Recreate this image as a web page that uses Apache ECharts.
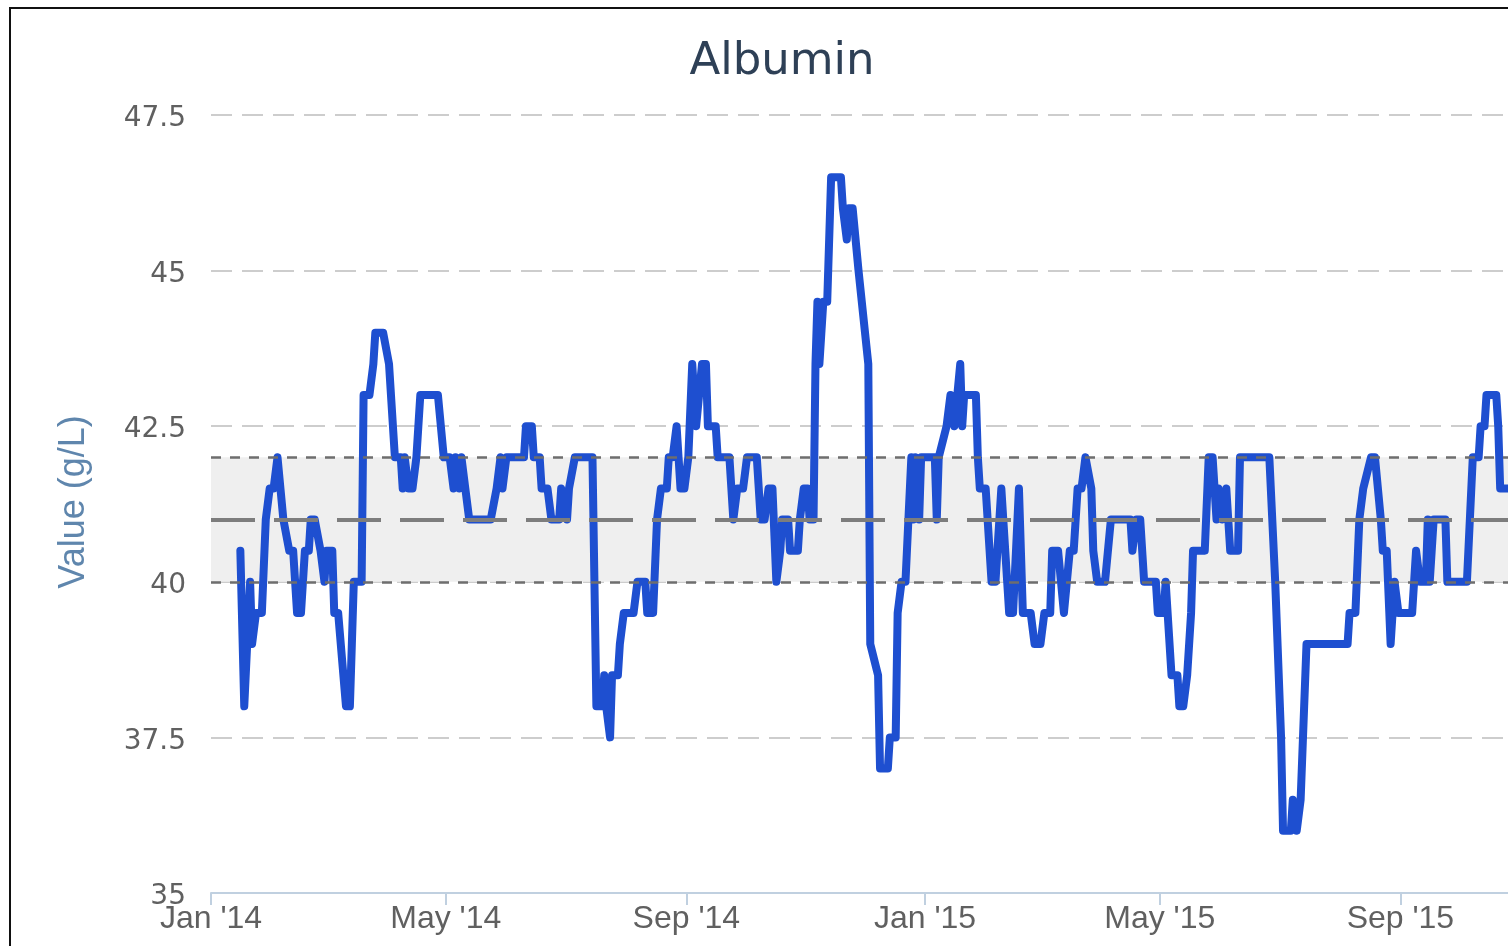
<!DOCTYPE html>
<html>
<head>
<meta charset="utf-8">
<title>Albumin</title>
<script src="https://cdn.jsdelivr.net/npm/echarts@6.0.0/dist/echarts.min.js"></script>
<style>
    html, body { margin: 0; padding: 0; background: #fff; }
    #chart { width: 1508px; height: 946px; }
</style>
</head>
<body>
<div id="chart"></div>
<script>
// reading dates, as days after 1 Jan 2014
const days = [
    15, 17, 18, 20, 21, 23, 26, 28, 30, 32, 34, 35, 37, 40, 42, 44, 46, 48, 50, 51,
    53, 56, 58, 59, 62, 63, 65, 69, 71, 72, 73, 77, 78, 81, 83, 84, 88, 91, 92, 94,
    97, 98, 99, 101, 103, 105, 106, 107, 116, 119, 122, 124, 125, 127, 128, 130, 132, 143, 146, 148,
    149, 151, 160, 161, 164, 165, 168, 169, 172, 174, 178, 179, 182, 183, 186, 195, 197, 200, 201, 202,
    204, 205, 208, 209, 211, 216, 218, 222, 223, 226, 228, 230, 233, 234, 236, 238, 240, 242, 244, 246,
    248, 251, 253, 254, 258, 259, 265, 267, 269, 272, 274, 279, 281, 283, 285, 287, 289, 291, 292, 295,
    296, 300, 301, 303, 305, 306, 308, 309, 310, 311, 313, 315, 317, 322, 323, 325, 326, 328, 331, 336,
    337, 341, 342, 346, 347, 350, 351, 353, 355, 358, 359, 360, 362, 363, 370, 371, 372, 376, 378, 380,
    383, 384, 385, 391, 392, 393, 396, 399, 401, 404, 408, 410, 413, 415, 419, 421, 424, 426, 429, 430,
    433, 436, 439, 441, 443, 445, 447, 448, 450, 451, 453, 457, 460, 470, 471, 473, 475, 477, 483, 484,
    487, 488, 489, 491, 494, 495, 497, 499, 501, 502, 508, 510, 512, 514, 515, 517, 519, 521, 525, 526,
    541, 544, 547, 548, 552, 553, 555, 557, 558, 560, 581, 582, 585, 587, 589, 593, 595, 598, 599, 601,
    603, 605, 607, 614, 616, 617, 618, 621, 622, 623, 625, 631, 632, 642, 645, 648, 649, 651, 652, 657,
    658, 659, 665
];

// albumin values (g/L)
const albumin = [
    40.5, 38, 38, 40, 39, 39.5, 39.5, 41, 41.5, 41.5, 42, 42, 41, 40.5, 40.5, 39.5, 39.5, 40.5, 40.5, 41,
    41, 40.5, 40, 40.5, 40.5, 39.5, 39.5, 38, 38, 39, 40, 40, 43, 43, 43.5, 44, 44, 43.5, 43.5, 42,
    42, 41.5, 42, 41.5, 41.5, 42, 42, 43, 43, 42, 42, 41.5, 42, 41.5, 42, 41.5, 41, 41, 41.5, 42,
    41.5, 42, 42, 42.5, 42.5, 42, 42, 41.5, 41.5, 41, 41, 41.5, 41, 41.5, 42, 42, 38, 38, 38.5, 38,
    37.5, 38.5, 38.5, 39, 39.5, 39.5, 40, 40, 39.5, 39.5, 41, 41.5, 41.5, 42, 42, 42.5, 41.5, 41.5, 42, 43.5,
    42.5, 43.5, 43.5, 42.5, 42.5, 42, 42, 41, 41.5, 41.5, 42, 42, 41, 41, 41.5, 41.5, 40, 40.5, 41, 41,
    40.5, 40.5, 41, 41.5, 41.5, 41, 41, 43.5, 44.5, 43.5, 44.5, 44.5, 46.5, 46.5, 46, 45.5, 46, 46, 45, 43.5,
    39, 38.5, 37, 37, 37.5, 37.5, 39.5, 40, 40, 42, 41, 42, 41, 42, 42, 41, 42, 42.5, 43, 42.5,
    43.5, 42.5, 43, 43, 42, 41.5, 41.5, 40, 40, 41.5, 39.5, 39.5, 41.5, 39.5, 39.5, 39, 39, 39.5, 39.5, 40.5,
    40.5, 39.5, 40.5, 40.5, 41.5, 41.5, 42, 42, 41.5, 40.5, 40, 40, 41, 41, 40.5, 41, 41, 40, 40, 39.5,
    39.5, 40, 40, 38.5, 38.5, 38, 38, 38.5, 39.5, 40.5, 40.5, 42, 42, 41, 41.5, 41, 41.5, 40.5, 40.5, 42,
    42, 40, 37.5, 36, 36, 36.5, 36, 36.5, 36.5, 39, 39, 39.5, 39.5, 41, 41.5, 42, 42, 41, 40.5, 40.5,
    39, 40, 39.5, 39.5, 40.5, 40.5, 40, 40, 41, 40, 41, 41, 40, 40, 42, 42, 42.5, 42.5, 43, 43,
    42.5, 41.5, 41.5
];

// x axis ticks (year, month) and their labels
const tickMonths = [[2014, 0], [2014, 4], [2014, 8], [2015, 0], [2015, 4], [2015, 8]];
const tickLabels = ["Jan '14", "May '14", "Sep '14", "Jan '15", "May '15", "Sep '15"];

// reference range and target line
const refLow = 40;
const refHigh = 42;
const refMid = 41;

// days after 1 Jan 2014 for each tick month
const start = Date.UTC(2014, 0, 1);
const tickDays = tickMonths.map(([y, m]) => Math.round((Date.UTC(y, m, 1) - start) / 864e5));
const lineData = days.map((d, i) => [d, albumin[i]]);

const chart = echarts.init(document.getElementById('chart'));

chart.setOption({
    animation: false,
    backgroundColor: '#fff',
    grid: { left: 211, right: 0, top: 115, bottom: 946 - 893 },
    graphic: [
        {
            // frame round the chart
            type: 'rect',
            shape: { x: 10, y: 8, width: 3000, height: 3000 },
            style: { fill: 'none', stroke: '#111', lineWidth: 2 },
            z: 10
        },
        {
            type: 'text',
            x: 782,
            y: 62,
            style: {
                text: 'Albumin',
                font: '45px "DejaVu Sans"',
                fill: '#2e4056',
                textAlign: 'center',
                textVerticalAlign: 'middle'
            }
        },
        {
            type: 'text',
            x: 74,
            y: 502,
            rotation: Math.PI / 2,
            style: {
                text: 'Value (g/L)',
                font: '36px "Liberation Sans"',
                fill: '#5f86ad',
                textAlign: 'center',
                textVerticalAlign: 'middle'
            }
        }
    ],
    xAxis: {
        type: 'value',
        min: 0,
        max: 663,
        axisLine: { lineStyle: { color: '#c0d0e0', width: 2 } },
        axisTick: {
            customValues: tickDays,
            length: 12,
            lineStyle: { color: '#c0d0e0', width: 2 }
        },
        axisLabel: {
            customValues: tickDays,
            margin: 10,
            color: '#606060',
            fontFamily: 'Liberation Sans',
            fontSize: 32,
            formatter: val => {
                const i = tickDays.indexOf(val);
                return i >= 0 ? tickLabels[i] : '';
            }
        },
        splitLine: { show: false }
    },
    yAxis: {
        type: 'value',
        min: 35,
        max: 47.5,
        interval: 2.5,
        axisLine: { show: false },
        axisTick: { show: false },
        axisLabel: {
            margin: 25,
            formatter: v => `{v|${v}}`,
            rich: {
                v: {
                    color: '#606060',
                    fontFamily: 'DejaVu Sans',
                    fontSize: 28,
                    padding: [8, 0, 0, 0]
                }
            }
        },
        splitLine: {
            lineStyle: {
                color: ['rgba(0,0,0,0)', '#cdcdcd', '#cdcdcd', '#cdcdcd', '#cdcdcd', '#cdcdcd'],
                width: 2,
                type: [21, 10]
            }
        }
    },
    series: [
        {
            // reference band and lines
            type: 'line',
            data: [],
            z: 1,
            silent: true,
            markArea: {
                silent: true,
                itemStyle: { color: '#efefef', opacity: 1 },
                data: [[{ yAxis: refLow }, { yAxis: refHigh }]]
            },
            markLine: {
                silent: true,
                symbol: 'none',
                label: { show: false },
                data: [
                    { yAxis: refLow, lineStyle: { color: '#6e6e6e', width: 2.5, type: [10, 9] } },
                    { yAxis: refHigh, lineStyle: { color: '#6e6e6e', width: 2.5, type: [10, 9] } },
                    { yAxis: refMid, lineStyle: { color: '#7d7d7d', width: 4, type: [44, 19] } }
                ]
            }
        },
        {
            name: 'Albumin',
            type: 'line',
            z: 3,
            data: lineData,
            showSymbol: false,
            lineStyle: { color: '#1e4fd0', width: 8, join: 'round', cap: 'round' }
        }
    ]
});
</script>
</body>
</html>
